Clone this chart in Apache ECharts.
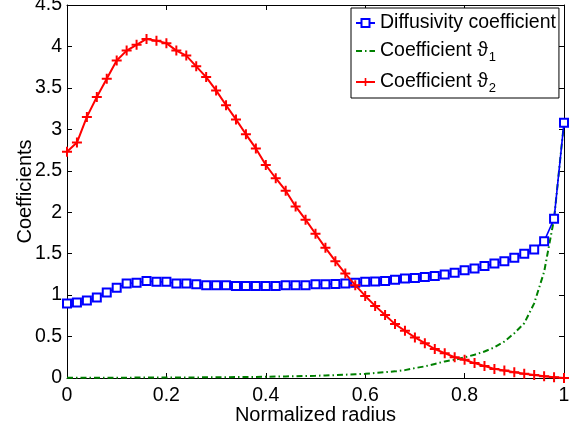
<!DOCTYPE html>
<html>
<head>
<meta charset="utf-8">
<script src="https://cdn.jsdelivr.net/npm/echarts@6/dist/echarts.min.js"></script>
<style>html,body{margin:0;padding:0;background:#fff}#c{width:573px;height:428px}</style>
</head>
<body>
<div id="c"></div>
<script>
var radius = [0.00,0.02,0.04,0.06,0.08,0.10,0.12,0.14,0.16,0.18,0.20,0.22,0.24,0.26,0.28,0.30,0.32,0.34,0.36,0.38,0.40,0.42,0.44,0.46,0.48,0.50,0.52,0.54,0.56,0.58,0.60,0.62,0.64,0.66,0.68,0.70,0.72,0.74,0.76,0.78,0.80,0.82,0.84,0.86,0.88,0.90,0.92,0.94,0.96,0.98,1.00];
var diffusivity = [0.90,0.91,0.935,0.97,1.03,1.09,1.14,1.15,1.17,1.16,1.16,1.14,1.14,1.13,1.12,1.12,1.12,1.11,1.11,1.11,1.11,1.11,1.12,1.12,1.12,1.13,1.13,1.135,1.14,1.15,1.16,1.165,1.17,1.185,1.20,1.205,1.22,1.23,1.25,1.27,1.30,1.32,1.35,1.38,1.41,1.45,1.50,1.55,1.65,1.92,3.08];
var theta1 = [0.003,0.003,0.003,0.003,0.004,0.004,0.004,0.005,0.005,0.005,0.006,0.006,0.007,0.007,0.008,0.009,0.010,0.011,0.012,0.013,0.015,0.017,0.019,0.021,0.024,0.027,0.031,0.035,0.040,0.045,0.05,0.06,0.07,0.08,0.095,0.12,0.14,0.17,0.20,0.22,0.25,0.28,0.32,0.37,0.44,0.54,0.66,0.90,1.28,1.92,3.08];
var theta2 = [2.73,2.84,3.15,3.39,3.61,3.83,3.95,4.02,4.09,4.07,4.04,3.95,3.89,3.76,3.63,3.47,3.29,3.12,2.94,2.77,2.57,2.41,2.26,2.07,1.91,1.74,1.57,1.41,1.26,1.12,0.99,0.87,0.76,0.65,0.57,0.49,0.42,0.35,0.30,0.25,0.22,0.18,0.145,0.11,0.09,0.07,0.05,0.035,0.02,0.01,0.0];
var xTicks = {min:0, max:1, interval:0.2};
var yTicks = {min:0, max:4.5, interval:0.5};
var seriesNames = ['Diffusivity coefficient','Coefficient ϑ_1','Coefficient ϑ_2'];
var xLabel = 'Normalized radius';
var yLabel = 'Coefficients';

function pairs(ys){ return radius.map(function(x,i){ return [x, ys[i]]; }); }
var FONT = 'Liberation Sans, Arial, Helvetica, sans-serif';
var plusPath = 'path://M-1,-5 L1,-5 L1,-1 L5,-1 L5,1 L1,1 L1,5 L-1,5 L-1,1 L-5,1 L-5,-1 L-1,-1 Z';

var chart = echarts.init(document.getElementById('c'), null, {renderer:'canvas'});
var axisCommon = {
  axisLine:{show:true, onZero:false, lineStyle:{color:'#000', width:1}},
  axisTick:{show:true, inside:true, length:5, lineStyle:{color:'#000'}},
  splitLine:{show:false}
};
chart.setOption({
  animation:false,
  backgroundColor:'#fff',
  grid:{left:67, right:9, top:5, bottom:50, containLabel:false, outerBoundsMode:'none'},
  xAxis:[
    Object.assign({type:'value', position:'bottom', min:xTicks.min, max:xTicks.max, interval:xTicks.interval,
      name:xLabel, nameLocation:'middle', nameGap:27, nameMoveOverlap:false,
      nameTextStyle:{fontFamily:FONT, fontSize:20, color:'#000'},
      axisLabel:{fontFamily:FONT, fontSize:19.5, color:'#000', margin:8}}, axisCommon),
    Object.assign({type:'value', position:'top', min:xTicks.min, max:xTicks.max, interval:xTicks.interval,
      axisLabel:{show:false}}, axisCommon)
  ],
  yAxis:[
    Object.assign({type:'value', position:'left', min:yTicks.min, max:yTicks.max, interval:yTicks.interval,
      name:yLabel, nameLocation:'middle', nameGap:32, nameMoveOverlap:false,
      nameTextStyle:{fontFamily:FONT, fontSize:20, color:'#000'},
      axisLabel:{fontFamily:FONT, fontSize:19.5, color:'#000', margin:5}}, axisCommon),
    Object.assign({type:'value', position:'right', min:yTicks.min, max:yTicks.max, interval:yTicks.interval,
      axisLabel:{show:false}}, axisCommon)
  ],
  legend:{
    orient:'vertical', left:351, top:8, padding:[5,3,3,4], itemGap:8,
    itemWidth:19, itemHeight:10,
    backgroundColor:'#fff', borderColor:'#000', borderWidth:1, borderRadius:0,
    data:[{name:seriesNames[0]}, {name:seriesNames[1], itemStyle:{opacity:0}}, {name:seriesNames[2]}],
    formatter:function(n){
      var m = n.split('_');
      if (m.length === 1) return '{t|' + n + '}';
      return '{t|' + m[0] + '}{s|' + m[1] + '}';
    },
    textStyle:{fontFamily:FONT, color:'#000', fontSize:19.5,
      rich:{
        t:{fontFamily:FONT, fontSize:19.5, color:'#000', lineHeight:26, verticalAlign:'middle'},
        s:{fontFamily:FONT, fontSize:13, color:'#000', lineHeight:26, verticalAlign:'bottom', padding:[0,0,0,1]}
      }}
  },
  series:[
    {name:seriesNames[0], type:'line', data:pairs(diffusivity), xAxisIndex:0, yAxisIndex:0,
     symbol:'emptyRect', symbolSize:8, showAllSymbol:true,
     lineStyle:{color:'#0000ff', width:1.6}, itemStyle:{color:'#0000ff', borderWidth:1.5}, z:3},
    {name:seriesNames[1], type:'line', data:pairs(theta1), xAxisIndex:0, yAxisIndex:0,
     symbol:'none',
     lineStyle:{color:'#008000', width:2, type:[6,3,1.5,3]}, itemStyle:{color:'#008000'}, z:2},
    {name:seriesNames[2], type:'line', data:pairs(theta2), xAxisIndex:0, yAxisIndex:0,
     symbol:plusPath, symbolSize:10, showAllSymbol:true,
     lineStyle:{color:'#ff0000', width:2}, itemStyle:{color:'#ff0000'}, z:4}
  ]
});
</script>
</body>
</html>
